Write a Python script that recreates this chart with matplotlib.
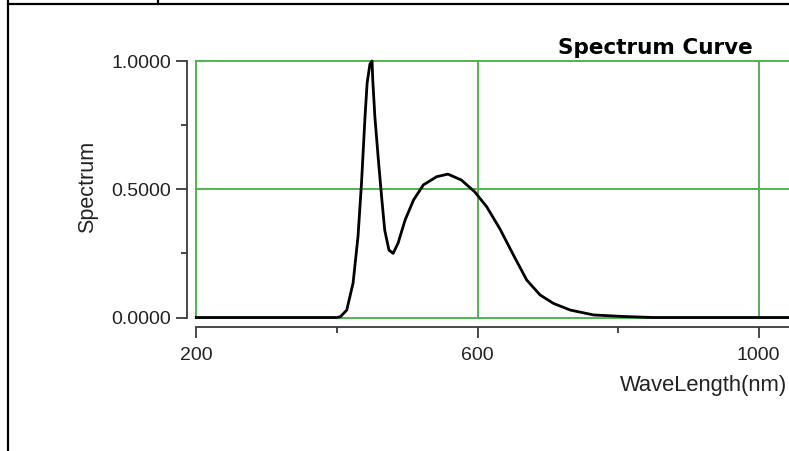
import matplotlib
matplotlib.use("Agg")
import matplotlib.pyplot as plt
from matplotlib.lines import Line2D
from matplotlib.ticker import FixedLocator, FormatStrFormatter

# ---- data ----
wavelength = [200, 380, 400, 405, 414, 423, 430, 435, 440, 443, 447, 450, 451,
              454, 459, 464, 468, 474, 480, 487, 497, 509, 523, 542, 558, 577,
              596, 613, 632, 651, 670, 689, 708, 732, 765, 807, 850, 1050]
spectrum = [0, 0, 0, 0.003, 0.029, 0.134, 0.315, 0.524, 0.783, 0.914, 0.988,
            1.0, 0.926, 0.783, 0.614, 0.458, 0.341, 0.263, 0.250, 0.290, 0.380,
            0.458, 0.517, 0.549, 0.559, 0.536, 0.490, 0.432, 0.345, 0.244,
            0.146, 0.088, 0.055, 0.029, 0.010, 0.004, 0, 0]
x_major = [200, 600, 1000]
x_minor = [400, 800]
y_major = [0.0, 0.5, 1.0]
y_minor = [0.25, 0.75]
title = "Spectrum Curve"
xlabel = "WaveLength(nm)"
ylabel = "Spectrum"

W, H = 789, 451
fig = plt.figure(figsize=(W / 100, H / 100), dpi=100)
plt.rcParams['font.family'] = ['Liberation Sans', 'DejaVu Sans']

left_px, right_px = 196.3, 789
top_px, bot_px = 61, 317.5
ax = fig.add_axes([left_px / W, 1 - bot_px / H, (right_px - left_px) / W,
                   (bot_px - top_px) / H])
px_per_nm = 0.703
ax.set_xlim(200, 200 + (right_px - left_px) / px_per_nm)
ax.set_ylim(0, 1)

green = '#4fb34f'
for v in x_major:
    ax.axvline(v, color=green, lw=1.4, clip_on=False, zorder=1)
for v in y_major:
    ax.axhline(v, color=green, lw=1.4, clip_on=False, zorder=1)

ax.plot(wavelength, spectrum, color='black', lw=2.0, clip_on=False, zorder=3)

for s in ['top', 'right']:
    ax.spines[s].set_visible(False)
spine_col = '#3a3a3a'
for s in ['left', 'bottom']:
    ax.spines[s].set_position(('outward', 6.5))
    ax.spines[s].set_color(spine_col)
    ax.spines[s].set_linewidth(1.3)

ax.xaxis.set_major_locator(FixedLocator(x_major))
ax.xaxis.set_minor_locator(FixedLocator(x_minor))
ax.yaxis.set_major_locator(FixedLocator(y_major))
ax.yaxis.set_minor_locator(FixedLocator(y_minor))
ax.yaxis.set_major_formatter(FormatStrFormatter('%.4f'))

ax.tick_params(axis='both', which='major', direction='out', length=8,
               width=1.3, color=spine_col, labelsize=14, labelcolor='#222222')
ax.tick_params(axis='both', which='minor', direction='out', length=4.5,
               width=1.3, color=spine_col)
ax.tick_params(axis='y', which='major', pad=3.5)
ax.tick_params(axis='x', which='major', pad=6.5)

fig.text(753 / W, 1 - 54.3 / H, title, ha='right', va='baseline',
         fontsize=15.5, fontweight='bold', family='DejaVu Sans', color='black')
fig.text(787 / W, 1 - 386 / H, xlabel, ha='right', va='center',
         fontsize=15.8, color='#222222')
fig.text(88 / W, 1 - 186.5 / H, ylabel, ha='center', va='center',
         rotation=90, fontsize=15.5, color='#222222')

# outer frame lines
fr = dict(color='black', lw=1.6, transform=fig.transFigure, clip_on=False)
fig.add_artist(Line2D([8.3 / W, 8.3 / W], [0, 1], **fr))
fig.add_artist(Line2D([8.3 / W, 1], [1 - 3.7 / H, 1 - 3.7 / H], **fr))
fig.add_artist(Line2D([158 / W, 158 / W], [1 - 3.7 / H, 1], **fr))

fig.savefig('out.png', dpi=100)
